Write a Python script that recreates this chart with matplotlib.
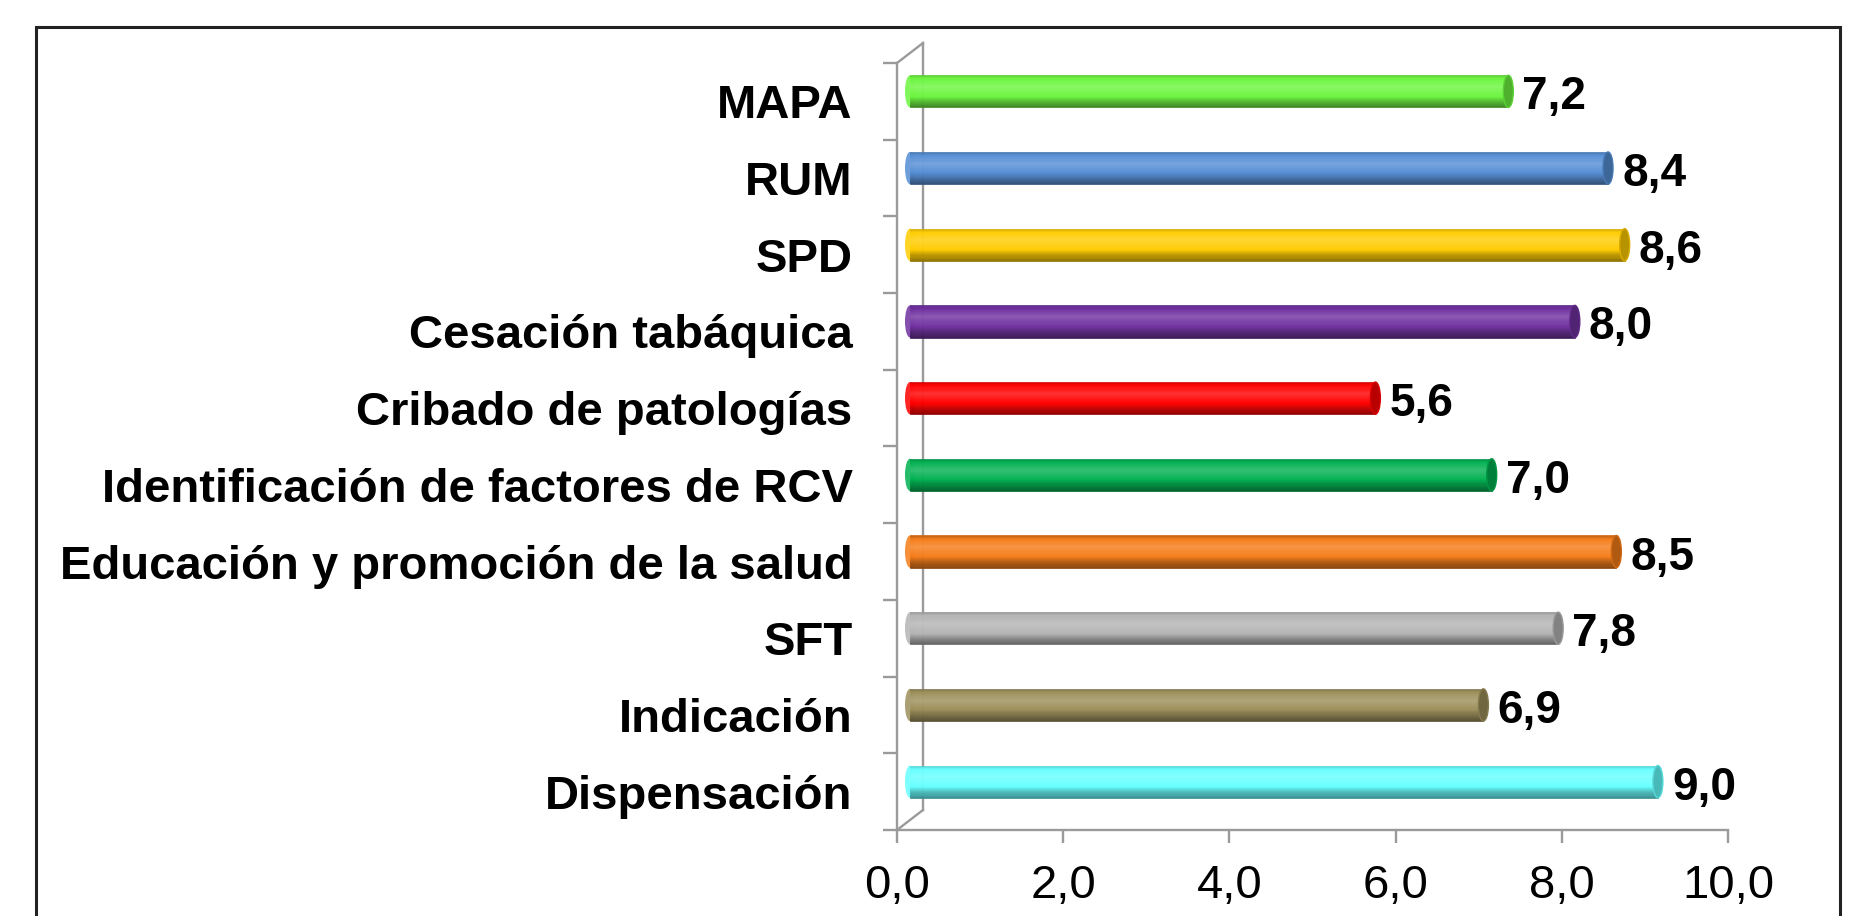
import numpy as np
import matplotlib
matplotlib.use("Agg")
import matplotlib.pyplot as plt
from matplotlib import transforms
from matplotlib.patches import Ellipse, Rectangle
from matplotlib.colors import to_rgb

# data (top to bottom as in the chart)
categories = ["MAPA", "RUM", "SPD", "Cesación tabáquica", "Cribado de patologías",
              "Identificación de factores de RCV", "Educación y promoción de la salud",
              "SFT", "Indicación", "Dispensación"]
values = [7.2, 8.4, 8.6, 8.0, 5.6, 7.0, 8.5, 7.8, 6.9, 9.0]
colors = ["#6CF53F", "#558ED5", "#FFCC00", "#7030A0", "#FF0000",
          "#00B050", "#F57C18", "#B4B4B4", "#9C8F5A", "#66FFFF"]
xticks = [0, 2, 4, 6, 8, 10]
xticklabels = ["0,0", "2,0", "4,0", "6,0", "8,0", "10,0"]

plt.rcParams['font.family'] = ['Liberation Sans', 'DejaVu Sans']
W, H, DPI = 1857, 916, 100
fig = plt.figure(figsize=(W / DPI, H / DPI), dpi=DPI)
ax = fig.add_axes([897 / W, 86 / H, 831 / W, 767 / H])

gray = "#9A9A9A"
n = len(categories)
y = np.arange(n)
ax.set_xlim(0, 10)
ax.set_ylim(n - 0.5, -0.5)


def shift(dx, dy):
    # data transform moved by dx, dy pixels (depth of the 3D look)
    return ax.transData + transforms.ScaledTranslation(dx / DPI, dy / DPI, fig.dpi_scale_trans)


back = shift(26, 20)
mid = shift(13, 10)


def shade(c, t):
    f = np.interp(t, [0, 0.1, 0.35, 0.65, 0.82, 1.0], [0.8, 1.0, 1.06, 1.0, 0.75, 0.55])
    c = np.array(to_rgb(c))
    if f <= 1:
        return tuple(c * f)
    return tuple(c + (1 - c) * (f - 1) * 3)


bh = 0.42
cap_w = 10 / 83.1
nstrip = 30
for yi, v, c in zip(y, values, colors):
    # left rounded end
    ax.add_patch(Ellipse((0, yi), cap_w, bh, transform=mid, facecolor=shade(c, 0.4),
                         edgecolor='none', zorder=3, clip_on=False))
    for k in range(nstrip):
        t = (k + 0.5) / nstrip
        yc = yi - bh / 2 + t * bh
        col = shade(c, t)
        ax.barh(yc, v, height=bh / nstrip, left=0, color=col, edgecolor=col, lw=0.5,
                transform=mid, zorder=4, clip_on=False)
    cc = np.array(to_rgb(c))
    ax.add_patch(Ellipse((v, yi), cap_w, bh, transform=mid, facecolor=tuple(cc * 0.72),
                         edgecolor=tuple(cc * 0.85), lw=1, zorder=5, clip_on=False))
    ax.text(v, yi, f"{v:.1f}".replace(".", ","), transform=shift(27, 4), fontsize=33,
            fontweight='bold', ha='left', va='center', zorder=6)

# back wall and depth edges
ax.plot([0, 0], [-0.5, n - 0.5], color=gray, lw=1.7, transform=back, clip_on=False, zorder=1)
inv = ax.transData.inverted()
for yy in (-0.5, n - 0.5):
    d0 = np.array([0, yy])
    d1 = inv.transform(back.transform((0, yy)))
    ax.plot([d0[0], d1[0]], [d0[1], d1[1]], color=gray, lw=1.7, clip_on=False, zorder=1)

for s in ['top', 'right']:
    ax.spines[s].set_visible(False)
for s in ['left', 'bottom']:
    ax.spines[s].set_color(gray)
    ax.spines[s].set_linewidth(1.7)

ax.set_xticks(xticks)
ax.set_xticklabels(xticklabels, fontsize=34)
ax.tick_params(axis='x', length=9.4, width=1.7, color=gray, pad=15)
ax.set_yticks(y)
ax.set_yticklabels(categories, fontsize=34, fontweight='bold')
ax.tick_params(axis='y', which='major', length=0, pad=32)
ax.set_yticks(np.arange(n + 1) - 0.5, minor=True)
ax.tick_params(axis='y', which='minor', length=10, width=1.7, color=gray)
ax.patch.set_visible(False)

fig.patches.append(Rectangle((36 / W, -0.05), (1840 - 36) / W, (H - 27) / H + 0.05,
                             transform=fig.transFigure, fill=False, lw=2.2,
                             edgecolor='#222222'))

fig.savefig("out.png", dpi=DPI, facecolor='white')
